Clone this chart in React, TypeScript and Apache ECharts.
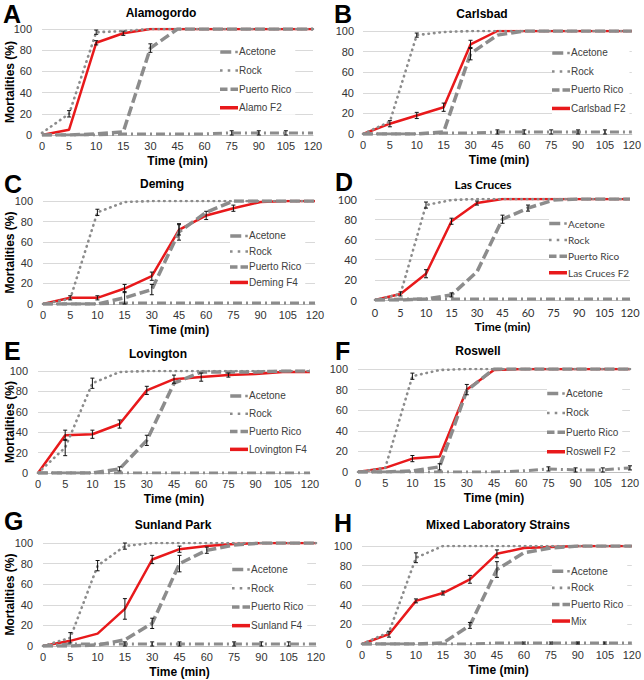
import React, { useEffect, useRef } from "react";
import * as echarts from "echarts";

const times = ["0", "5", "10", "15", "30", "45", "60", "75", "90", "105", "120"];

// A Alamogordo
const aAcetone = [0, 0, 0, 1, 1, 1, 1, 2, 2, 2, 2];
const aRock = [2, 20, 97, 98, 100, 100, 100, 100, 100, 100, 100];
const aPuertoRico = [0, 0, 1, 3, 82, 100, 100, 100, 100, 100, 100];
const aLocal = [0, 5, 87, 96, 100, 100, 100, 100, 100, 100, 100];
const aErr = [["rock", 1, 3], ["local", 2, 2], ["rock", 2, 2], ["local", 3, 2], ["pr", 4, 4], ["acetone", 7, 2], ["acetone", 8, 2], ["acetone", 9, 2]];

// B Carlsbad
const bAcetone = [0, 0, 0, 1, 1, 2, 2, 2, 2, 2, 2];
const bRock = [0, 12, 96, 99, 100, 100, 100, 100, 100, 100, 100];
const bPuertoRico = [0, 0, 0, 2, 78, 96, 100, 100, 100, 100, 100];
const bLocal = [0, 10, 18, 26, 87, 100, 100, 100, 100, 100, 100];
const bErr = [["local", 1, 3], ["local", 2, 3], ["local", 3, 4], ["local", 4, 4], ["pr", 4, 6], ["rock", 2, 2], ["acetone", 5, 2], ["acetone", 6, 2], ["acetone", 7, 2], ["acetone", 8, 2], ["acetone", 9, 2]];

// C Deming
const cAcetone = [0, 0, 0, 1, 1, 1, 1, 1, 1, 1, 1];
const cRock = [0, 5, 89, 99, 100, 100, 100, 100, 100, 100, 100];
const cPuertoRico = [0, 0, 0, 6, 14, 70, 89, 100, 100, 100, 100];
const cLocal = [0, 6, 6, 15, 27, 72, 86, 93, 99, 100, 100];
const cErr = [["rock", 2, 3], ["local", 3, 4], ["pr", 3, 6], ["local", 4, 4], ["pr", 4, 5], ["local", 5, 5], ["pr", 5, 8], ["local", 6, 4], ["local", 7, 3], ["local", 1, 2], ["local", 2, 2]];

// D Las Cruces
const dAcetone = [0, 1, 1, 1, 1, 1, 1, 1, 1, 1, 1];
const dRock = [0, 6, 94, 99, 100, 100, 100, 100, 100, 100, 100];
const dPuertoRico = [0, 0, 1, 5, 28, 80, 91, 99, 100, 100, 100];
const dLocal = [0, 6, 26, 78, 96, 100, 100, 100, 100, 100, 100];
const dErr = [["local", 2, 4], ["rock", 2, 3], ["local", 3, 3], ["local", 4, 2], ["pr", 5, 4], ["pr", 6, 3], ["local", 1, 2], ["pr", 3, 2]];

// E Lovington
const eAcetone = [0, 0, 0, 0, 0, 0, 0, 0, 0, 0, 0];
const eRock = [0, 25, 88, 99, 100, 100, 100, 100, 100, 100, 100];
const ePuertoRico = [0, 0, 0, 4, 32, 88, 99, 99, 99, 100, 100];
const eLocal = [0, 37, 38, 48, 81, 92, 94, 96, 97, 99, 99];
const eErr = [["local", 1, 5], ["rock", 1, 8], ["rock", 2, 5], ["local", 2, 4], ["local", 3, 4], ["pr", 4, 5], ["local", 4, 4], ["local", 5, 4], ["local", 6, 4], ["local", 7, 2], ["pr", 3, 2]];

// F Roswell
const fAcetone = [0, 0, 0, 0, 0, 0, 1, 3, 2, 2, 4];
const fRock = [0, 4, 93, 99, 100, 100, 100, 100, 100, 100, 100];
const fPuertoRico = [0, 0, 1, 5, 79, 100, 100, 100, 100, 100, 100];
const fLocal = [0, 4, 13, 15, 80, 99, 100, 100, 100, 100, 100];
const fErr = [["rock", 2, 3], ["local", 2, 3], ["pr", 3, 3], ["local", 4, 5], ["acetone", 7, 2], ["acetone", 8, 2], ["acetone", 9, 2], ["acetone", 10, 2]];

// G Sunland Park
const gAcetone = [0, 2, 2, 2, 2, 2, 2, 2, 2, 2, 2];
const gRock = [0, 8, 78, 97, 100, 100, 100, 100, 100, 100, 100];
const gPuertoRico = [0, 0, 1, 6, 22, 80, 93, 98, 100, 100, 100];
const gLocal = [0, 5, 12, 36, 84, 94, 97, 99, 100, 100, 100];
const gErr = [["rock", 1, 5], ["rock", 2, 5], ["local", 3, 10], ["rock", 3, 3], ["local", 4, 4], ["pr", 4, 5], ["pr", 5, 8], ["local", 5, 3], ["pr", 6, 3], ["acetone", 3, 2], ["acetone", 4, 2], ["acetone", 5, 2], ["acetone", 7, 2], ["acetone", 8, 2], ["acetone", 9, 2]];

// H Mixed Laboratory Strains
const hAcetone = [0, 0, 0, 0, 0, 1, 1, 1, 1, 1, 1];
const hRock = [0, 12, 88, 100, 100, 100, 100, 100, 100, 100, 100];
const hPuertoRico = [0, 0, 0, 1, 19, 76, 93, 98, 100, 100, 100];
const hLocal = [0, 10, 44, 52, 66, 92, 98, 99, 100, 100, 100];
const hErr = [["rock", 2, 5], ["local", 2, 2], ["local", 3, 2], ["local", 4, 4], ["pr", 4, 3], ["local", 5, 4], ["pr", 5, 8], ["local", 1, 3], ["acetone", 6, 1], ["acetone", 7, 1], ["acetone", 8, 1], ["acetone", 9, 1]];

const panels = [
  { letter: "A", title: "Alamogordo", local: "Alamo F2", v: { acetone: aAcetone, rock: aRock, pr: aPuertoRico, local: aLocal }, err: aErr,
    grid: { left: 42, top: 29, width: 271, height: 106 }, titleX: 161, titleY: 13, lx: 3, ly: 1, leg: [220, 51.7, 18.1], ylab: true, yMargin: 10, font: "Liberation Sans" },
  { letter: "B", title: "Carlsbad", local: "Carlsbad F2", v: { acetone: bAcetone, rock: bRock, pr: bPuertoRico, local: bLocal }, err: bErr,
    grid: { left: 363, top: 31, width: 272, height: 103 }, titleX: 482, titleY: 14, lx: 334, ly: 1, leg: [552, 52.7, 18], ylab: false, yMargin: 9, font: "Liberation Sans" },
  { letter: "C", title: "Deming", local: "Deming F4", v: { acetone: cAcetone, rock: cRock, pr: cPuertoRico, local: cLocal }, err: cErr,
    grid: { left: 43, top: 201, width: 272, height: 103 }, titleX: 162, titleY: 184, lx: 4, ly: 171, leg: [230, 235.7, 15], ylab: true, yMargin: 10, font: "Liberation Sans" },
  { letter: "D", title: "Las Cruces", local: "Las Cruces F2", v: { acetone: dAcetone, rock: dRock, pr: dPuertoRico, local: dLocal }, err: dErr,
    grid: { left: 375, top: 199, width: 255, height: 101 }, titleX: 483, titleY: 184, lx: 335, ly: 169, leg: [549, 223.3, 15.9], ylab: false, yMargin: 18, font: "Lato" },
  { letter: "E", title: "Lovington", local: "Lovington F4", v: { acetone: eAcetone, rock: eRock, pr: ePuertoRico, local: eLocal }, err: eErr,
    grid: { left: 38, top: 371, width: 272, height: 102 }, titleX: 158, titleY: 354, lx: 4, ly: 338, leg: [230, 395.7, 17.3], ylab: true, yMargin: 10, font: "Liberation Sans" },
  { letter: "F", title: "Roswell", local: "Roswell F2", v: { acetone: fAcetone, rock: fRock, pr: fPuertoRico, local: fLocal }, err: fErr,
    grid: { left: 358, top: 369, width: 272, height: 103 }, titleX: 478, titleY: 351, lx: 335, ly: 338, leg: [547, 393.3, 18.9], ylab: false, yMargin: 10, font: "Liberation Sans" },
  { letter: "G", title: "Sunland Park", local: "Sunland F4", v: { acetone: gAcetone, rock: gRock, pr: gPuertoRico, local: gLocal }, err: gErr,
    grid: { left: 43, top: 543, width: 273, height: 103 }, titleX: 173, titleY: 525, lx: 4, ly: 508, leg: [232, 569.3, 18.2], ylab: true, yMargin: 10, font: "Liberation Sans" },
  { letter: "H", title: "Mixed Laboratory Strains", local: "Mix", v: { acetone: hAcetone, rock: hRock, pr: hPuertoRico, local: hLocal }, err: hErr,
    grid: { left: 362, top: 546, width: 273, height: 98 }, titleX: 498, titleY: 525, lx: 334, ly: 510, leg: [552, 571, 16.1], ylab: false, yMargin: 10, font: "Liberation Sans" },
];

const GREY = "#8c8c8c";
const RED = "#e8191b";

const ICON_ACETONE = "path://M0,0h11v3.5h-11z M15,0.5h2.5v2.5h-2.5z";
const ICON_ROCK = "path://M0,0h2.5v2.5h-2.5z M7.5,0h2.5v2.5h-2.5z M15,0h2.5v2.5h-2.5z";
const ICON_PR = "path://M0,0h7.5v3.5h-7.5z M10.5,0h7.5v3.5h-7.5z";
const ICON_LOCAL = "path://M0,0h18v3.5h-18z";

function buildOption() {
  const grid: any[] = [];
  const xAxis: any[] = [];
  const yAxis: any[] = [];
  const series: any[] = [];
  const legend: any[] = [];
  const graphic: any[] = [];

  panels.forEach((p, i) => {
    grid.push({ ...p.grid, containLabel: false });
    xAxis.push({
      type: "category", gridIndex: i, data: times, boundaryGap: false,
      axisLine: { lineStyle: { color: "#bfbfbf", width: 1 } },
      axisTick: { show: false },
      axisLabel: { interval: 0, margin: p.font === "Lato" ? 7 : 5, fontSize: 11, color: "#333", fontFamily: p.font },
      splitLine: { show: false },
    });
    yAxis.push({
      type: "value", gridIndex: i, min: 0, max: 100, interval: 20,
      axisLine: { show: false }, axisTick: { show: false },
      axisLabel: { margin: p.yMargin, fontSize: 11, color: "#333", fontFamily: p.font },
      splitLine: { lineStyle: { color: "#d9d9d9", width: 1 } },
    });
    series.push({
      name: p.local, type: "line", xAxisIndex: i, yAxisIndex: i, data: p.v.local,
      symbol: "none", lineStyle: { color: RED, width: 2.5 }, itemStyle: { color: RED },
    });
    series.push({
      name: "Acetone", type: "line", xAxisIndex: i, yAxisIndex: i, data: p.v.acetone,
      symbol: "none", lineStyle: { color: GREY, width: 3, type: [9, 4, 2, 4] }, itemStyle: { color: GREY },
    });
    series.push({
      name: "Rock", type: "line", xAxisIndex: i, yAxisIndex: i, data: p.v.rock,
      symbol: "none", lineStyle: { color: GREY, width: 2.6, type: [0.5, 5], cap: "round" }, itemStyle: { color: GREY },
    });
    series.push({
      name: "Puerto Rico", type: "line", xAxisIndex: i, yAxisIndex: i, data: p.v.pr,
      symbol: "none", lineStyle: { color: GREY, width: 3.5, type: [10, 4] }, itemStyle: { color: GREY },
    });
    const vals: any = p.v;
    series.push({
      type: "custom", xAxisIndex: i, yAxisIndex: i, z: 10,
      data: p.err.map((e: any) => [e[1], vals[e[0]][e[1]], e[2]]),
      renderItem: (params: any, api: any) => {
        const x = api.value(0), v = api.value(1), e = api.value(2);
        const t = api.coord([x, Math.min(100, v + e)]);
        const b = api.coord([x, Math.max(0, v - e)]);
        const w = 2;
        const st = { stroke: "#111", lineWidth: 1 };
        return {
          type: "group", children: [
            { type: "line", shape: { x1: t[0], y1: t[1], x2: b[0], y2: b[1] }, style: st },
            { type: "line", shape: { x1: t[0] - w, y1: t[1], x2: t[0] + w, y2: t[1] }, style: st },
            { type: "line", shape: { x1: b[0] - w, y1: b[1], x2: b[0] + w, y2: b[1] }, style: st },
          ],
        };
      },
    });
    const [lx, ly, sp] = p.leg;
    legend.push({
      orient: "vertical", left: lx, top: ly - 6.75, itemWidth: 18, itemHeight: 3.5, itemGap: sp - 9.5,
      padding: [2, 4, 2, 0], backgroundColor: "#fff",
      data: [
        { name: "Acetone", icon: ICON_ACETONE },
        { name: "Rock", icon: ICON_ROCK },
        { name: "Puerto Rico", icon: ICON_PR },
        { name: p.local, icon: ICON_LOCAL },
      ],
      textStyle: { fontSize: 10, color: "#404040", fontFamily: p.font, padding: [0, 0, 0, -4] },
      selectedMode: false,
    });
    const cx = p.grid.left + p.grid.width / 2;
    const cy = p.grid.top + p.grid.height / 2;
    graphic.push({ type: "text", left: p.lx, top: p.ly, style: { text: p.letter, font: "bold 25px 'Liberation Sans', Arial", lineHeight: 20, fill: "#000" } });
    graphic.push({ type: "text", x: p.titleX, y: p.titleY, style: { text: p.title, font: `bold 12px '${p.font}', Arial`, fill: "#000", textAlign: "center", textVerticalAlign: "middle" } });
    graphic.push({ type: "text", x: cx, y: p.grid.top + p.grid.height + 26, style: { text: "Time (min)", font: `bold 12px '${p.font}', Arial`, fill: "#000", textAlign: "center", textVerticalAlign: "middle" } });
    if (p.ylab) {
      graphic.push({ type: "text", x: 10, y: cy, rotation: Math.PI / 2, style: { text: "Mortalities (%)", font: "bold 12px 'Liberation Sans', Arial", fill: "#000", textAlign: "center", textVerticalAlign: "middle" } });
    }
  });

  return { animation: false, backgroundColor: "#fff", grid, xAxis, yAxis, series, legend, graphic };
}

export default function App() {
  const ref = useRef<HTMLDivElement>(null);
  useEffect(() => {
    if (!ref.current) return;
    const chart = echarts.init(ref.current, undefined, { renderer: "svg" });
    chart.setOption(buildOption() as any);
    return () => chart.dispose();
  }, []);
  return <div ref={ref} style={{ position: "fixed", left: 0, top: 0, width: 644, height: 680 }} />;
}
